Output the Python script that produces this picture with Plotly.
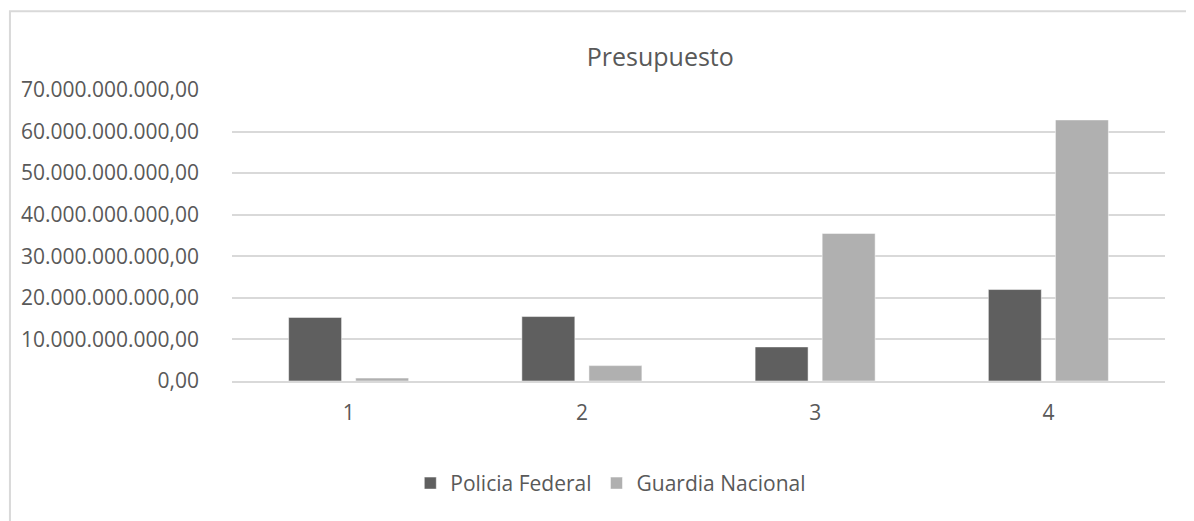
"""Presupuesto: Policia Federal vs Guardia Nacional."""

import plotly.graph_objects as go

CATEGORIES = ["1", "2", "3", "4"]
POLICIA_FEDERAL = [15.3e9, 15.5e9, 8.2e9, 22.0e9]
GUARDIA_NACIONAL = [0.7e9, 3.7e9, 35.5e9, 62.8e9]

DARK = "#5f5f5f"
LIGHT = "#b0b0b0"
TEXT = "#595959"
GRID = "#d9d9d9"
FONT = "Open Sans"

fig = go.Figure()
fig.add_trace(
    go.Bar(x=CATEGORIES, y=POLICIA_FEDERAL, name="Policia Federal", marker=dict(color=DARK))
)
fig.add_trace(
    go.Bar(x=CATEGORIES, y=GUARDIA_NACIONAL, name="Guardia Nacional", marker=dict(color=LIGHT))
)

# page body keeps its default 8px margin, so the figure is a little smaller than the window
fig.update_layout(
    width=1186,
    height=513,
    template="plotly_white",
    paper_bgcolor="white",
    plot_bgcolor="white",
    font=dict(family=FONT, color=TEXT, size=21),
    separators=",.",
    barmode="group",
    bargap=0.425,
    bargroupgap=0.21,
    margin=dict(l=224, r=29, t=82, b=139.5),
    title=dict(
        text="Presupuesto",
        x=0.55,
        xanchor="center",
        y=0.904,
        yanchor="middle",
        font=dict(size=25, color=TEXT, family=FONT),
    ),
    legend=dict(
        orientation="h",
        x=0.406,
        xanchor="center",
        y=-0.352,
        yanchor="middle",
        font=dict(size=21, color=TEXT),
    ),
    shapes=[
        dict(
            type="rect",
            xref="paper",
            yref="paper",
            x0=-0.238,
            x1=1.2,
            y0=-0.6,
            y1=1.271,
            line=dict(color=GRID, width=2),
            fillcolor="rgba(0,0,0,0)",
            layer="below",
        )
    ],
)
fig.update_yaxes(
    range=[0, 70e9],
    dtick=10e9,
    tickformat=",.2f",
    gridcolor=GRID,
    gridwidth=1.5,
    zeroline=False,
    showline=False,
    ticklabelstandoff=32,
    tickfont=dict(size=21, color=TEXT),
)
fig.update_xaxes(
    showgrid=False,
    showline=True,
    linecolor=GRID,
    linewidth=1.5,
    ticklabelstandoff=12,
    tickfont=dict(size=21, color=TEXT),
)

fig.write_html("out.html")
